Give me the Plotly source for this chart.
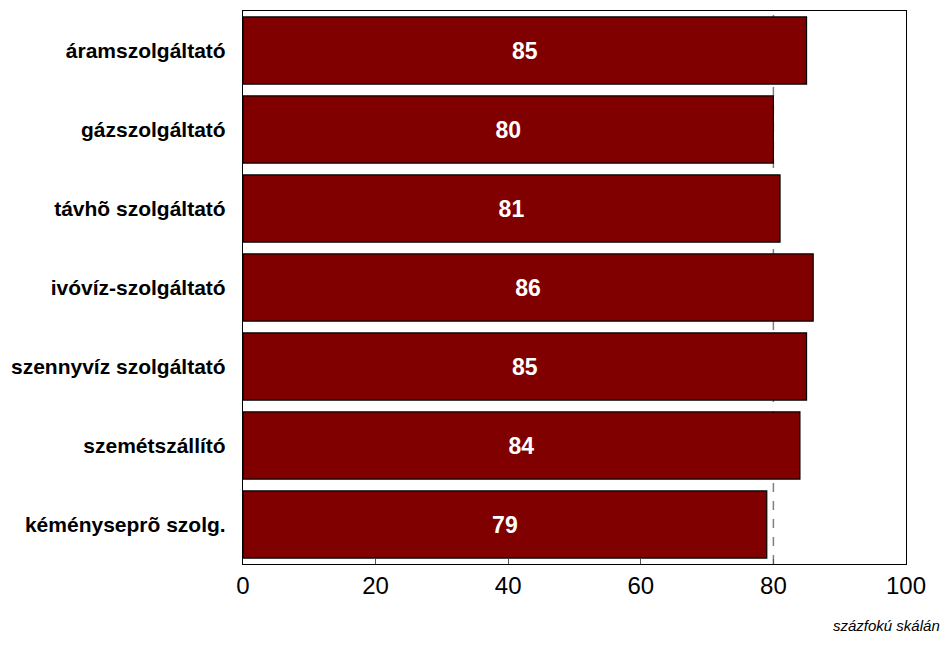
import plotly.graph_objects as go

categories = ["áramszolgáltató", "gázszolgáltató", "távhõ szolgáltató", "ivóvíz-szolgáltató",
              "szennyvíz szolgáltató", "szemétszállító", "kéményseprõ szolg."]
values = [85, 80, 81, 86, 85, 84, 79]
x_ticks = [0, 20, 40, 60, 80, 100]
ref_line = 80
unit_note = "százfokú skálán"

FONT = "Liberation Sans Narrow, Arial Narrow, Liberation Sans, Arial, sans-serif"

fig = go.Figure(go.Bar(
    y=categories, x=values, orientation="h",
    marker=dict(color="#800000", line=dict(color="#000000", width=1.2)),
    text=[str(v) for v in values], textposition="inside", insidetextanchor="middle",
    textfont=dict(family=FONT, size=23, color="white", weight="bold"),
    width=0.85,
))

fig.add_shape(type="line", xref="x", yref="paper", x0=ref_line, x1=ref_line, y0=0, y1=1,
              line=dict(color="#808080", width=1.5, dash="dash"), layer="below")

fig.add_annotation(text=unit_note, xref="paper", yref="paper", x=1.054, y=-0.093,
                   xanchor="right", yanchor="top", showarrow=False,
                   font=dict(family=FONT, size=15, color="#000000", style="italic"))

# page body has an 8px margin, so margins are offset to compensate
fig.update_layout(
    width=952, height=655,
    margin=dict(l=235, r=54, t=3, b=99),
    plot_bgcolor="white", paper_bgcolor="white",
    showlegend=False,
    xaxis=dict(range=[0, 100], tickvals=x_ticks, showgrid=False, zeroline=False,
               showline=True, linecolor="#000000", linewidth=1.2, mirror=True,
               ticks="inside", ticklen=5, tickcolor="#555555",
               tickfont=dict(family=FONT, size=24, color="#000000")),
    yaxis=dict(autorange="reversed", showgrid=False, zeroline=False,
               showline=True, linecolor="#000000", linewidth=1.2, mirror=True,
               ticks="", ticklabelstandoff=12,
               tickfont=dict(family=FONT, size=21, color="#000000", weight="bold")),
)

fig.write_html("out.html")
